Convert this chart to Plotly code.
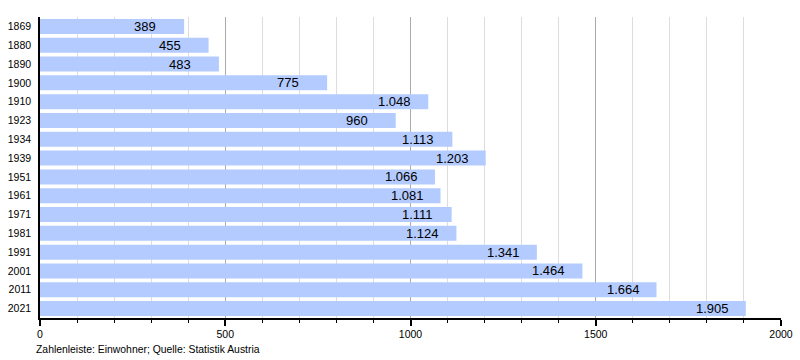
import plotly.graph_objects as go

years = ["1869", "1880", "1890", "1900", "1910", "1923", "1934", "1939", "1951",
         "1961", "1971", "1981", "1991", "2001", "2011", "2021"]
population = [389, 455, 483, 775, 1048, 960, 1113, 1203, 1066, 1081, 1111, 1124,
              1341, 1464, 1664, 1905]
x_ticks = [0, 500, 1000, 1500, 2000]
footer = "Zahlenleiste: Einwohner; Quelle: Statistik Austria"

def fmt(v):
    return f"{v:,}".replace(",", ".")

FONT = "Liberation Sans, Arial, sans-serif"

fig = go.Figure(go.Bar(
    y=years, x=population, orientation="h",
    marker=dict(color="#b3cbff", line=dict(width=0)),
    hoverinfo="skip",
))

# category index positions (numeric) so year strings are not read as indices
for i, v in enumerate(population):
    fig.add_annotation(x=v, y=i, text=fmt(v), showarrow=False, xanchor="left",
                       xshift=-52, font=dict(size=13, color="#000", family=FONT))

fig.add_annotation(x=0, y=0, xref="paper", yref="paper", text=footer, showarrow=False,
                   xanchor="left", yanchor="middle", xshift=-6, yshift=-31,
                   font=dict(size=10.4, color="#000", family=FONT))

fig.update_layout(
    width=800, height=360,
    margin=dict(l=40, r=19, t=17, b=42, autoexpand=False),
    paper_bgcolor="white", plot_bgcolor="white",
    bargap=0.2, showlegend=False,
    font=dict(family=FONT, size=10.5, color="#000"),
    xaxis=dict(
        automargin=False,
        range=[0, 2000], tickvals=x_ticks, ticktext=[str(t) for t in x_ticks],
        showgrid=True, gridcolor="#ababab", gridwidth=1,
        showline=True, linecolor="#000", linewidth=1.5,
        ticks="outside", ticklen=6, tickcolor="#000", tickwidth=1.5,
        zeroline=False, fixedrange=True,
        tickfont=dict(size=10.5),
        minor=dict(dtick=100, showgrid=True, gridcolor="#dddddd", gridwidth=1,
                   ticks="outside", ticklen=3, tickcolor="#000", tickwidth=1),
    ),
    yaxis=dict(
        automargin=False,
        type="category",
        categoryorder="array", categoryarray=years,
        range=[len(years) - 0.5, -0.5],
        showline=True, linecolor="#000", linewidth=1.5,
        showgrid=False, ticks="", ticklabelstandoff=5, zeroline=False,
        tickfont=dict(size=10.5),
    ),
)

fig.write_html("out.html", post_script="document.body.style.margin='0';",
               config={"displayModeBar": False})
